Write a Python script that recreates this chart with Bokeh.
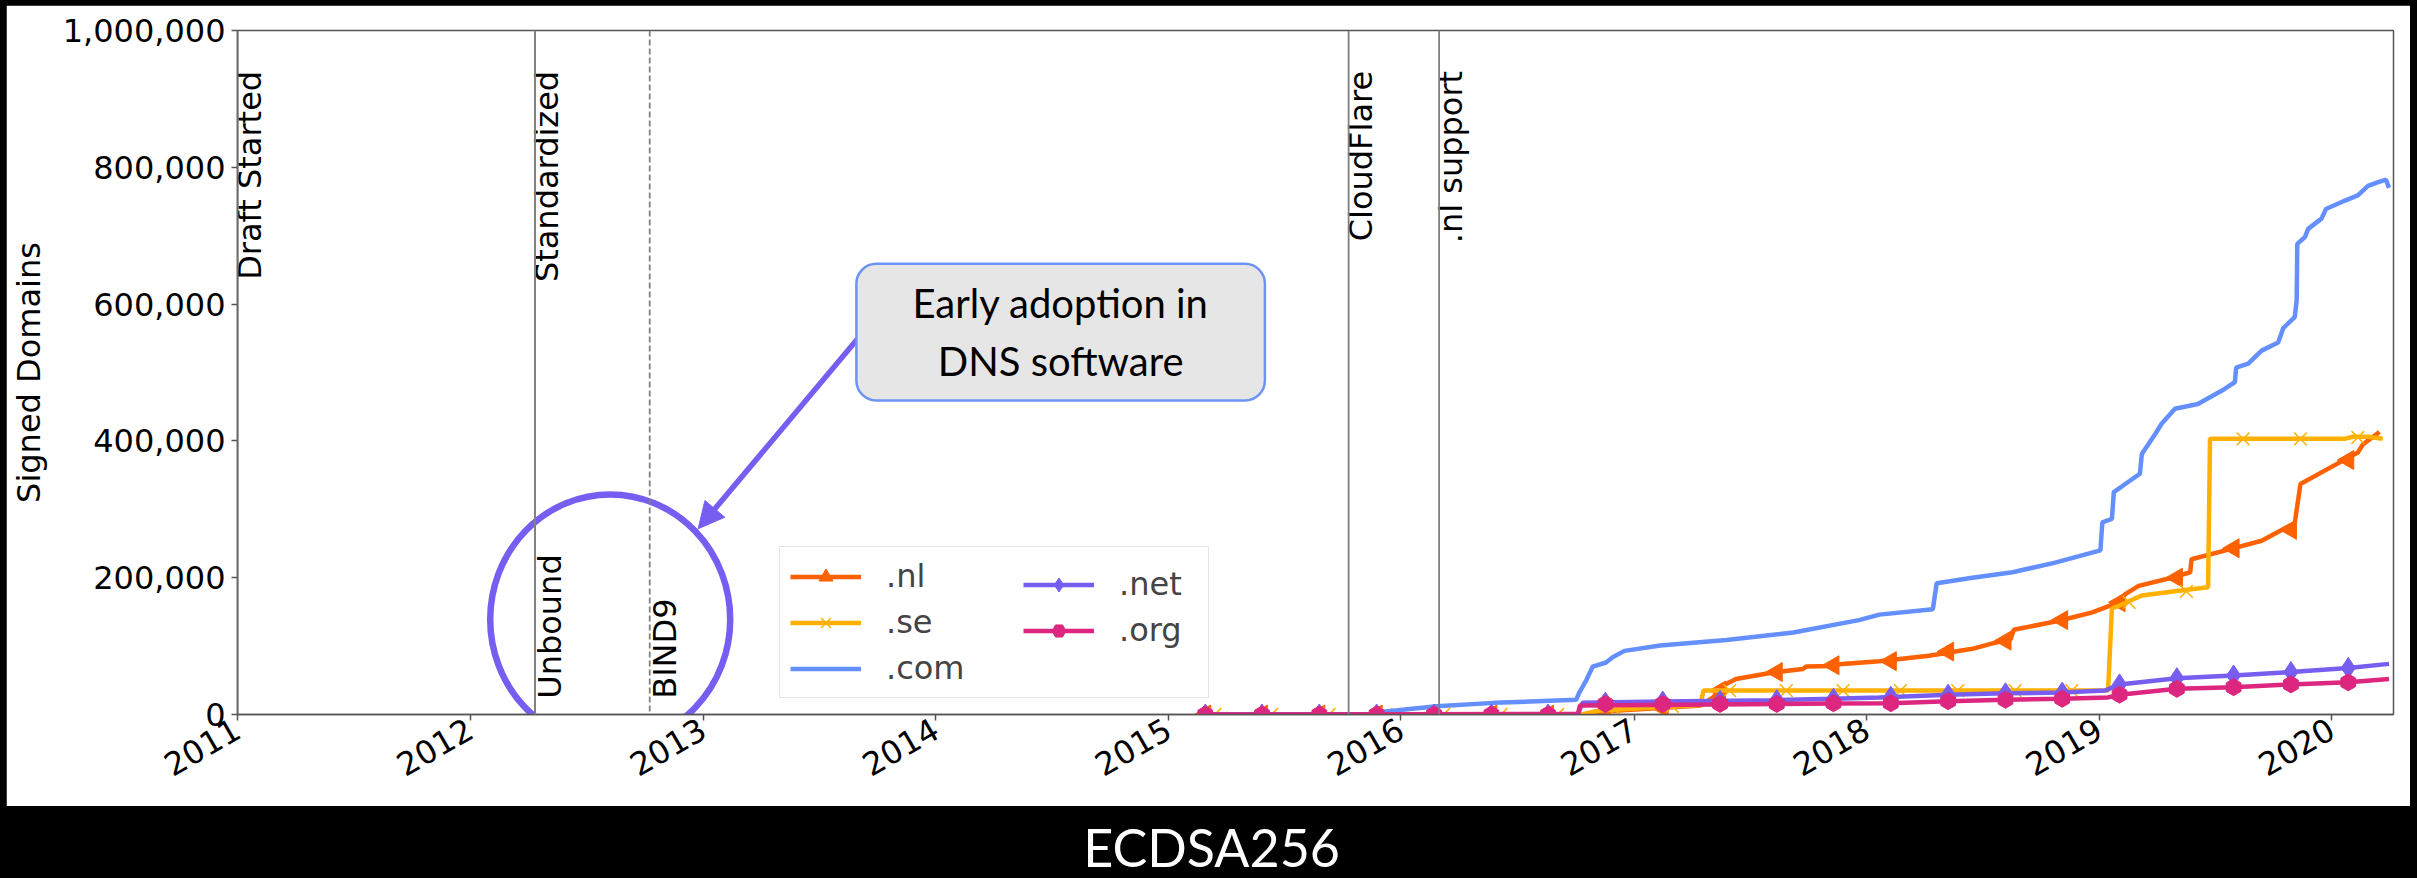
import numpy as np
import pandas as pd
from bokeh.plotting import figure
from bokeh.models import (Range1d, FixedTicker, DatetimeTickFormatter, NumeralTickFormatter,
                          Span, Legend, LegendItem, Label, Arrow, NormalHead)
from bokeh.layouts import column
from bokeh.core.properties import value
from bokeh.embed import file_html
from bokeh.resources import INLINE

# ---------------- data ----------------
TITLE = "ECDSA256"
Y_LABEL = "Signed Domains"
YEAR_TICKS = [str(y) for y in range(2011, 2021)]
Y_TICKS = [0, 200000, 400000, 600000, 800000, 1000000]
X_START, X_END = "2011-01-01", "2020-04-07"

GRID_DATES = ["2015-02-28", "2015-05-28", "2015-08-26", "2015-11-24", "2016-02-22", "2016-05-22",
              "2016-08-19", "2016-11-17", "2017-02-15", "2017-05-16", "2017-08-13", "2017-11-10",
              "2018-02-08", "2018-05-09", "2018-08-07", "2018-11-04", "2019-02-02", "2019-05-03",
              "2019-07-31", "2019-10-29", "2020-01-27"]
SE_MARK_DATES = ["2015-03-15", "2015-06-12", "2015-09-10", "2015-12-09", "2016-03-08", "2016-06-06",
                 "2016-09-03", "2016-12-02", "2017-03-02", "2017-05-31", "2017-08-28", "2017-11-25",
                 "2018-02-23", "2018-05-24", "2018-08-22", "2018-11-19", "2019-02-17", "2019-05-18",
                 "2019-08-15", "2019-11-13", "2020-02-11"]

nl_dates = ["2015-02-27", "2016-10-18", "2016-10-28", "2017-01-16", "2017-04-15", "2017-05-05",
            "2017-05-20", "2017-06-10", "2017-07-11", "2017-08-12", "2017-09-23", "2017-09-28",
            "2017-11-06", "2017-11-24", "2018-01-21", "2018-04-09", "2018-06-16", "2018-07-22",
            "2018-08-15", "2018-08-20", "2018-10-30", "2018-12-20", "2019-02-01", "2019-02-11",
            "2019-03-04", "2019-04-25", "2019-05-24", "2019-05-26", "2019-07-23", "2019-09-13",
            "2019-11-04", "2019-11-13", "2019-12-16", "2020-02-11", "2020-02-19", "2020-03-16"]
nl_vals = [0, 0, 3500, 8000, 13000, 25000, 42000, 52000, 57000, 62000, 66500, 70000,
           71000, 74000, 78000, 86000, 96000, 105000, 110000, 124000, 137000, 149000, 164000, 176000,
           188000, 200000, 208000, 227000, 241000, 254000, 280000, 337000, 354000, 383000, 395000, 413000]
nl_mark_vals = [0, 0, 0, 0, 0, 0, 0, 5000, 9500, 35000, 62000, 72000, 78000, 92000, 108000,
                138000, 164000, 200000, 243000, 270000, 372000]

se_dates = ["2015-02-27", "2016-10-10", "2016-11-10", "2017-02-15", "2017-04-15", "2017-04-20",
            "2019-01-15", "2019-01-21", "2019-02-01", "2019-03-09", "2019-05-06", "2019-06-21",
            "2019-06-24", "2020-01-21", "2020-02-03", "2020-02-27", "2020-03-21"]
se_vals = [0, 0, 6000, 11000, 14000, 35000, 35000, 155000, 159000, 174000, 181000, 186000,
           403000, 403000, 406000, 406000, 403000]
se_mark_vals = [0, 0, 0, 0, 0, 0, 0, 7000, 12000, 35000, 35000, 35000, 35000, 35000, 35000,
                35000, 164000, 180000, 403000, 403000, 405000]

com_dates = ["2015-02-27", "2015-11-08", "2015-11-23", "2016-02-26", "2016-05-26", "2016-10-02",
             "2016-10-07", "2016-10-18", "2016-10-28", "2016-11-18", "2016-11-29", "2016-12-17",
             "2017-02-11", "2017-05-26", "2017-09-08", "2017-12-20", "2018-01-21", "2018-04-15",
             "2018-04-21", "2018-06-16", "2018-08-18", "2018-10-24", "2019-01-03", "2019-01-06",
             "2019-01-21", "2019-01-24", "2019-02-11", "2019-03-06", "2019-03-09", "2019-03-30",
             "2019-04-09", "2019-04-30", "2019-06-05", "2019-07-17", "2019-08-02", "2019-08-04",
             "2019-08-23", "2019-09-13", "2019-10-09", "2019-10-17", "2019-11-04", "2019-11-07",
             "2019-11-08", "2019-11-20", "2019-11-25", "2019-12-16", "2019-12-23", "2020-01-21",
             "2020-02-11", "2020-02-27", "2020-03-13", "2020-03-26", "2020-03-31"]
com_vals = [0, 0, 3000, 12000, 17000, 21500, 32000, 50000, 70000, 76000, 84000, 93000,
            101000, 109000, 120000, 138000, 146000, 154000, 192000, 200000, 208000, 222000, 240000, 281000,
            286000, 325000, 337000, 352000, 381000, 410000, 425000, 447000, 454000, 476000, 486000, 507000,
            513000, 532000, 544000, 565000, 581000, 605000, 688000, 698000, 710000, 725000, 739000, 751000,
            759000, 773000, 778000, 782000, 770000]

net_dates = ["2015-02-27", "2016-10-05", "2016-10-12", "2017-02-15", "2017-08-13", "2017-11-10",
             "2018-01-21", "2018-05-09", "2018-08-07", "2018-11-04", "2019-01-10", "2019-02-02",
             "2019-05-03", "2019-07-31", "2019-10-29", "2020-01-27", "2020-03-31"]
net_vals = [0, 500, 17000, 19000, 21000, 23000, 25000, 29000, 31000, 32000, 35000, 44000,
            53000, 57000, 62000, 68000, 74000]
net_mark_vals = [0, 0, 0, 0, 0, 0, 0, 17500, 19000, 20000, 21000, 23000, 26000, 29000, 31000,
                 32000, 44000, 53000, 57000, 62000, 68000]

org_dates = ["2015-02-27", "2016-10-05", "2016-10-08", "2017-11-10", "2018-02-08", "2018-05-09",
             "2018-08-07", "2018-11-04", "2019-01-15", "2019-02-02", "2019-05-03", "2019-07-31",
             "2019-10-29", "2020-01-27", "2020-03-31"]
org_vals = [0, 1000, 13000, 16000, 16500, 19500, 21500, 23000, 25000, 29000, 37500, 40000,
            44000, 47000, 52000]
org_mark_vals = [0, 0, 0, 0, 0, 0, 0, 15500, 15500, 15500, 15500, 16500, 16500, 19500, 21500,
                 23000, 29000, 37500, 40000, 44000, 47000]

EVENT_TOP_NAMES = ["Draft Started", "Standardized", "CloudFlare", ".nl support"]
EVENT_TOP_DATES = ["2011-01-01", "2012-04-12", "2015-10-11", "2016-03-01"]
EVENT_BOTTOM_NAMES = ["Unbound", "BIND9"]
EVENT_BOTTOM_DATES = ["2012-04-12", "2012-10-09"]
EVENT_BOTTOM_DASH = ["solid", "6 3"]
EVENT_TOP_Y = 941000
EVENT_BOTTOM_Y = 23000

NOTE_TEXT = "Early adoption in\nDNS software"
NOTE_X, NOTE_Y = "2014-07-16", 559000
ARROW_FROM = ("2013-09-07", 556600)
ARROW_TO = ("2012-12-24", 271500)
CIRCLE_X, CIRCLE_Y = "2012-08-08", 139000

COLORS = {".nl": "#FE6100", ".se": "#FFB000", ".com": "#648FFF", ".net": "#785EF0", ".org": "#DC267F"}
PURPLE = "#785EF0"
GRAY = "#808080"
FONT = "DejaVu Sans"

# page geometry (pixels)
FIG_W, FIG_H = 2404, 801
B_LEFT, B_RIGHT, B_TOP, B_BOTTOM = 228, 17, 25, 92
OFF_X, OFF_Y = 6, 5
BAND_H = 72


def ms(d):
    return pd.Timestamp(d).value / 1e6


def dt(lst):
    return pd.to_datetime(lst)


# ---------------- main figure ----------------
p = figure(width=FIG_W, height=FIG_H, x_axis_type="datetime",
           x_range=Range1d(ms(X_START), ms(X_END)), y_range=Range1d(0, 1_000_000),
           output_backend="svg", toolbar_location=None,
           min_border_left=B_LEFT, min_border_right=B_RIGHT, min_border_top=B_TOP,
           min_border_bottom=B_BOTTOM,
           background_fill_color="white", border_fill_color="white")
p.margin = (OFF_Y, 0, 0, OFF_X)
p.grid.visible = False
p.outline_line_color = "#555555"
p.outline_line_width = 1.5

p.xaxis.ticker = FixedTicker(ticks=[ms(f"{y}-01-01") for y in YEAR_TICKS])
p.xaxis.formatter = DatetimeTickFormatter(years="%Y", months="%Y", days="%Y", hours="%Y")
p.xaxis.major_label_orientation = np.pi / 6
p.yaxis.ticker = FixedTicker(ticks=Y_TICKS)
p.yaxis.formatter = NumeralTickFormatter(format="0,0")
p.yaxis.axis_label = Y_LABEL
for ax in (p.xaxis[0], p.yaxis[0]):
    ax.major_label_text_font = FONT
    ax.major_label_text_font_size = "32px"
    ax.major_label_text_color = "black"
    ax.axis_label_text_font = FONT
    ax.axis_label_text_font_size = "32px"
    ax.axis_label_text_font_style = "normal"
    ax.axis_label_text_color = "black"
    ax.axis_line_color = "#555555"
    ax.axis_line_width = 1.5
    ax.major_tick_line_color = "#555555"
    ax.major_tick_line_width = 1.5
    ax.major_tick_out = 6
    ax.major_tick_in = 0
    ax.minor_tick_line_color = None
    ax.major_label_standoff = 6
p.yaxis.axis_label_standoff = 12

# event lines
for d in EVENT_TOP_DATES:
    p.add_layout(Span(location=ms(d), dimension="height", line_color=GRAY, line_width=1.8))
for d, dash in zip(EVENT_BOTTOM_DATES, EVENT_BOTTOM_DASH):
    p.add_layout(Span(location=ms(d), dimension="height", line_color=GRAY, line_width=1.8,
                      line_dash=dash))

p.text(x=dt(EVENT_TOP_DATES), y=[EVENT_TOP_Y] * len(EVENT_TOP_NAMES), text=EVENT_TOP_NAMES,
       angle=np.pi / 2, text_align="right", text_baseline="top", x_offset=-7,
       text_font=value(FONT), text_font_size=value("32px"), text_color="black")
p.text(x=dt(EVENT_BOTTOM_DATES), y=[EVENT_BOTTOM_Y] * len(EVENT_BOTTOM_NAMES), text=EVENT_BOTTOM_NAMES,
       angle=np.pi / 2, text_align="left", text_baseline="top", x_offset=-4,
       text_font=value(FONT), text_font_size=value("32px"), text_color="black")

# series
LW = 4.5
r_nl_l = p.line(dt(nl_dates), nl_vals, line_color=COLORS[".nl"], line_width=LW)
r_nl_m = p.scatter(dt(GRID_DATES), nl_mark_vals, marker="triangle", angle=np.pi / 2, size=19,
                   fill_color=COLORS[".nl"], line_color=COLORS[".nl"])
r_se_l = p.line(dt(se_dates), se_vals, line_color=COLORS[".se"], line_width=LW)
r_se_m = p.scatter(dt(SE_MARK_DATES), se_mark_vals, marker="x", size=18,
                   line_color=COLORS[".se"], line_width=1.5)
r_com_l = p.line(dt(com_dates), com_vals, line_color=COLORS[".com"], line_width=LW)
r_net_l = p.line(dt(net_dates), net_vals, line_color=COLORS[".net"], line_width=LW)
r_net_m = p.scatter(dt(GRID_DATES), net_mark_vals, marker="diamond", size=21,
                    fill_color=COLORS[".net"], line_color=COLORS[".net"])
r_org_l = p.line(dt(org_dates), org_vals, line_color=COLORS[".org"], line_width=LW)
r_org_m = p.scatter(dt(GRID_DATES), org_mark_vals, marker="hex", angle=np.pi / 2, size=17,
                    fill_color=COLORS[".org"], line_color=COLORS[".org"])

# annotations: circle, arrow, note box
p.ellipse(x=dt([CIRCLE_X]), y=[CIRCLE_Y], width=240, height=250, width_units="screen",
          height_units="screen", fill_color=None, line_color=PURPLE, line_width=6.5)
p.add_layout(Arrow(x_start=ms(ARROW_FROM[0]), y_start=ARROW_FROM[1],
                   x_end=ms(ARROW_TO[0]), y_end=ARROW_TO[1],
                   line_color=PURPLE, line_width=5.5,
                   end=NormalHead(size=26, fill_color=PURPLE, line_color=PURPLE, line_width=1)))
p.add_layout(Label(x=ms(NOTE_X), y=NOTE_Y, text=NOTE_TEXT, text_align="center",
                   text_baseline="middle", text_font="Lato", text_font_size="40px",
                   text_color="black", text_line_height=1.22,
                   background_fill_color="#E7E6E6", border_line_color="#6C93F5",
                   border_line_width=2.5, padding=(56, 15), border_radius=20))

# legends (two columns)
leg_common = dict(padding=10, spacing=8, glyph_width=71, glyph_height=35, label_standoff=25,
                  label_text_font=FONT, label_text_font_size="32px", label_height=35, margin=0)
leg1 = Legend(items=[LegendItem(label=value(".nl"), renderers=[r_nl_l, r_nl_m]),
                     LegendItem(label=value(".se"), renderers=[r_se_l, r_se_m]),
                     LegendItem(label=value(".com"), renderers=[r_com_l])],
              location=(542, 16), label_width=312, border_line_color="#cccccc",
              border_line_width=1.5, background_fill_color="white", background_fill_alpha=0.85,
              **leg_common)
leg2 = Legend(items=[LegendItem(label=value(".net"), renderers=[r_net_l, r_net_m]),
                     LegendItem(label=value(".org"), renderers=[r_org_l, r_org_m])],
              location=(786, 65), label_width=60, border_line_color=None,
              background_fill_alpha=0, **leg_common)
p.add_layout(leg1, "center")
p.add_layout(leg2, "center")

# ---------------- black caption band ----------------
# same borders as the main figure so that the column's frame alignment leaves it unchanged;
# its x range is expressed in the band's own canvas pixels.
band = figure(width=FIG_W, height=BAND_H,
              x_range=Range1d(B_LEFT, FIG_W - B_RIGHT), y_range=Range1d(0, BAND_H),
              x_axis_type=None, y_axis_type=None, toolbar_location=None, output_backend="svg",
              min_border_left=B_LEFT, min_border_right=B_RIGHT, min_border_top=0,
              min_border_bottom=0, background_fill_color="black", border_fill_color="black",
              outline_line_color=None)
band.margin = (0, 0, 0, OFF_X)
band.grid.visible = False
band.add_layout(Label(x=1209.5 - OFF_X, y=32, text=TITLE, text_align="center",
                      text_baseline="middle", text_font="Lato", text_font_size="52px",
                      text_color="white"))

layout = column(p, band, spacing=0)
html = file_html(layout, INLINE, title=TITLE)
html = html.replace("</head>", "<style>html, body { background: #000; }</style></head>", 1)
open("out.html", "w").write(html)
